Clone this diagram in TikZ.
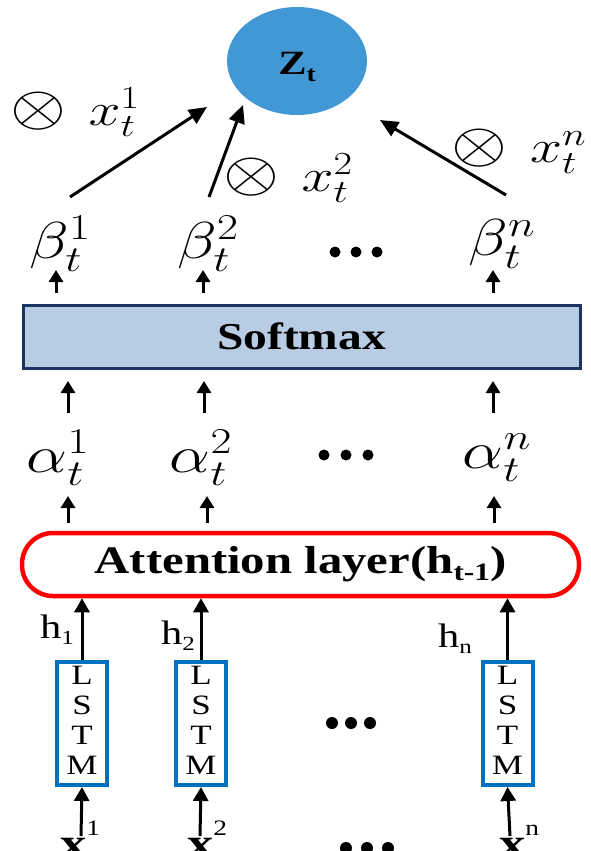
\RequirePackage{fix-cm}
\documentclass[tikz,border=0pt]{standalone}
\usepackage[no-math]{fontspec}
\setmainfont{Liberation Serif}
\usetikzlibrary{arrows.meta,shapes.geometric}
\definecolor{zblue}{RGB}{66,152,212}
\definecolor{smfill}{RGB}{184,204,228}
\definecolor{smedge}{RGB}{28,52,100}
\definecolor{lstmblue}{RGB}{0,112,192}
\definecolor{attred}{RGB}{255,0,0}
% the drawing is set slightly wide: every text is stretched sideways
\newcommand{\hwide}[1]{\scalebox{1.25}[1]{#1}}
\newcommand{\fsz}[1]{\fontsize{#1}{#1}\selectfont}
\newcommand{\wterm}[1]{\hwide{\fsz{46}\scalebox{1.25}{$\otimes$}\hspace{18pt}$x_t^{#1}$}}
\newcommand{\lstmtext}{\hwide{\fontsize{28}{30}\selectfont\begin{tabular}{@{}c@{}}L\\S\\T\\M\end{tabular}}}

\begin{document}
\begin{tikzpicture}[x=1pt,y=-1pt,
  bigarrow/.style={line width=3pt,-{Triangle[length=18pt,width=16pt]}},
  tickarrow/.style={line width=3pt,-{Triangle[length=12pt,width=14pt]}},
  harrow/.style={line width=3pt,-{Triangle[length=14pt,width=15pt]}},
  lbl/.style={inner sep=0pt},
  lstmbox/.style={draw=lstmblue, line width=4pt, minimum width=50pt,
                  minimum height=123pt, inner sep=0pt},
  dot/.style={circle, fill=black, inner sep=0pt, minimum size=11pt}
]
\useasboundingbox (0,0) rectangle (590,851);
\clip (0,0) rectangle (590,851);

% ---- output node Z_t
\node[ellipse, fill=zblue, minimum width=140pt, minimum height=108pt, inner sep=0pt] (z) at (297,61) {};
\node[lbl] (zt) at (297,67) {\hwide{\fsz{34}\bfseries Z\raisebox{-7pt}{\fsz{22}t}}};

% ---- weighted inputs
\node[lbl] (w1) at (75,112) {\wterm{1}};
\node[lbl] (w2) at (288,178) {\wterm{2}};
\node[lbl] (wn) at (519,151) {\wterm{n}};

\coordinate (s1) at (70,197);  \coordinate (e1) at (207,107);
\coordinate (s2) at (209,197); \coordinate (e2) at (243,105);
\coordinate (sn) at (506,195); \coordinate (en) at (380,120);
\draw[bigarrow] (s1) -- (e1);
\draw[bigarrow] (s2) -- (e2);
\draw[bigarrow] (sn) -- (en);

% ---- beta row
\node[lbl] (b1) at (60,244)  {\hwide{\fsz{52}$\beta_t^1$}};
\node[lbl] (b2) at (208,244) {\hwide{\fsz{52}$\beta_t^2$}};
\node[lbl] (bn) at (502,244) {\hwide{\fsz{52}$\beta_t^n$}};
\foreach \x in {335,356,377} \node[dot] at (\x,252) {};

\foreach \i/\x in {1/56,2/203,n/493}{
  \coordinate (bt\i) at (\x,293); \coordinate (bh\i) at (\x,270);
  \draw[tickarrow] (bt\i) -- (bh\i);
}

% ---- softmax
\node[draw=smedge, line width=3pt, fill=smfill, minimum width=557pt,
      minimum height=63pt, inner sep=0pt] (sm) at (301.5,336.5)
      {\hwide{\fsz{38}\bfseries Softmax}};

\foreach \i/\x in {1/68,2/204,n/493}{
  \coordinate (st\i) at (\x,413); \coordinate (sh\i) at (\x,381);
  \draw[tickarrow] (st\i) -- (sh\i);
}

% ---- alpha row
\node[lbl] (a1) at (58,458)  {\hwide{\fsz{52}$\alpha_t^1$}};
\node[lbl] (a2) at (201,458) {\hwide{\fsz{52}$\alpha_t^2$}};
\node[lbl] (an) at (497,458) {\hwide{\fsz{52}$\alpha_t^n$}};
\foreach \x in {324,346,368} \node[dot] at (\x,455) {};

\foreach \i/\x in {1/68,2/207,n/494}{
  \coordinate (at\i) at (\x,523); \coordinate (ah\i) at (\x,496);
  \draw[tickarrow] (at\i) -- (ah\i);
}

% ---- attention layer
\node[draw=attred, line width=4.5pt, rounded corners=31pt, minimum width=557pt,
      minimum height=63pt, inner sep=0pt] (att) at (300.5,564.5)
      {\hwide{\fsz{39}\bfseries Attention layer(h\raisebox{-7pt}{\fsz{25}t-1})}};

% ---- LSTM cells
\node[lstmbox] (m1) at (82,723.5) {\lstmtext};
\node[lstmbox] (m2) at (201,723.5) {\lstmtext};
\node[lstmbox] (mn) at (507.5,723.5) {\lstmtext};
\foreach \x in {332,351,370} \node[dot, minimum size=12pt] at (\x,723) {};

\draw[harrow] (m1.north) -- (m1.north |- att.south);
\draw[harrow] (m2.north) -- (m2.north |- att.south);
\draw[harrow] (mn.north) -- (mn.north |- att.south);

\node[lbl] (h1) at (57,630)  {\hwide{\fsz{34}h\raisebox{-6pt}{\fsz{20}1}}};
\node[lbl] (h2) at (178,636) {\hwide{\fsz{34}h\raisebox{-6pt}{\fsz{20}2}}};
\node[lbl] (hn) at (455,639) {\hwide{\fsz{34}h\raisebox{-6pt}{\fsz{20}n}}};

% ---- inputs
\node[lbl, anchor=base] (x1) at (80,857)  {\hwide{\fsz{42}\bfseries x\raisebox{22pt}{\mdseries\fsz{22}1}}};
\node[lbl, anchor=base] (x2) at (207,857) {\hwide{\fsz{42}\bfseries x\raisebox{22pt}{\mdseries\fsz{22}2}}};
\node[lbl, anchor=base] (xn) at (519,857) {\hwide{\fsz{42}\bfseries x\raisebox{22pt}{\mdseries\fsz{22}n}}};
\foreach \x in {346,367,388} \node[dot, minimum size=12pt] at (\x,848) {};

\coordinate (i1) at (81,836);  \coordinate (i2) at (200,836);  \coordinate (in) at (510,836);
\draw[harrow] (i1) -- (m1.south);
\draw[harrow] (i2) -- (m2.south);
\draw[harrow] (in) -- (mn.south);
\end{tikzpicture}
\end{document}
